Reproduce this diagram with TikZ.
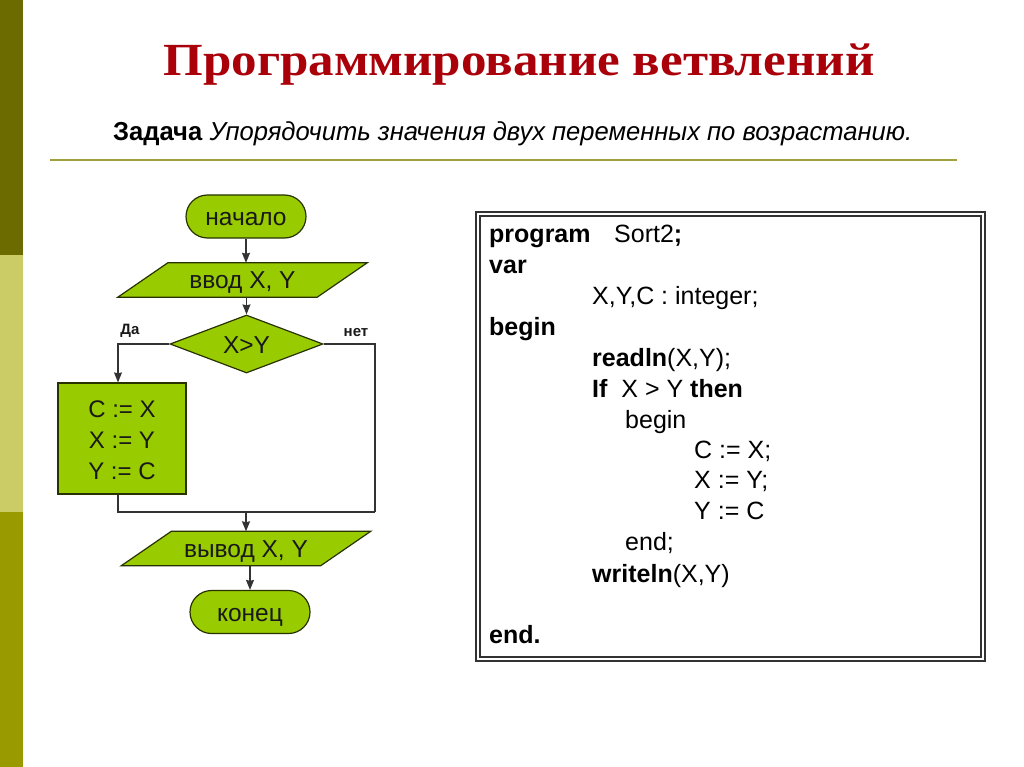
\documentclass[tikz,border=0pt]{standalone}
\usepackage{fontspec}
\setmainfont{Liberation Sans}
\newfontfamily\titlefont{Liberation Serif}
\usetikzlibrary{arrows.meta,shapes.geometric,shapes.misc,backgrounds,calc}
\definecolor{barDark}{RGB}{107,107,0}
\definecolor{barLight}{RGB}{204,204,102}
\definecolor{barMid}{RGB}{153,153,0}
\definecolor{ruleCol}{RGB}{160,160,60}
\definecolor{titleCol}{RGB}{170,0,10}
\definecolor{fcGreen}{RGB}{153,204,0}
\definecolor{fcLine}{RGB}{40,50,0}
\definecolor{codeLine}{RGB}{50,50,50}
\newcommand{\fs}[1]{\fontsize{#1}{#1}\selectfont}
\begin{document}
\begin{tikzpicture}[x=1pt,y=-1pt,
  fcshape/.style={fill=fcGreen, draw=fcLine, line width=1.2pt, text=black!90, font=\fs{24.5}, inner sep=0pt, text height=21pt, text depth=3pt},
  term/.style={fcshape, rounded rectangle, minimum width=120pt, minimum height=43pt},
  decision/.style={fcshape, diamond, aspect=2.64, minimum width=153pt, minimum height=58pt},
  procbox/.style={fill=fcGreen, draw=fcLine, line width=1.2pt, text=black!90, inner sep=0pt, rectangle, minimum width=128pt, minimum height=111pt, align=center, font=\fs{24}},
  iobox/.style={inner sep=0pt, minimum width=199pt, minimum height=34pt, text=black!90, font=\fs{24.5}, text height=20pt, text depth=3pt},
  iofill/.style={fill=fcGreen, draw=fcLine, line width=1.2pt},
  conn/.style={draw=black!80, line width=1.3pt},
  arr/.style={conn, -{Stealth[length=10pt,width=8pt,inset=1pt]}},
  lbl/.style={font=\fs{15}\bfseries, text=black!90, inner sep=0pt},
  code/.style={anchor=base west, inner sep=0pt, font=\fs{25}, text=black}
]
\useasboundingbox (0,0) rectangle (1024,767);
\begin{scope}[on background layer]
\fill[white] (0,0) rectangle (1024,767);
\end{scope}
% left bar
\fill[barDark] (0,0) rectangle (23,255);
\fill[barLight] (0,255) rectangle (23,512);
\fill[barMid] (0,512) rectangle (23,767);

% title
\node[anchor=base, inner sep=0pt, text=titleCol, font=\titlefont\fs{46}\bfseries] (title) at (519,76)
  {\resizebox{711pt}{\height}{Программирование ветвлений}};
\node[anchor=base west, inner sep=0pt, font=\fs{26}, text=black] (task) at (113,141)
  {\resizebox{799pt}{\height}{\textbf{Задача} \textit{Упорядочить значения двух переменных по возрастанию.}}};
\draw[ruleCol, line width=2pt] (50,160) -- (957,160);

% flowchart
\node[term] (start) at (246,216.5) {начало};
\node[iobox] (in) at (242.5,280) {ввод X, Y};
\node[decision] (dec) at (246.5,344) {X>Y};
\node[procbox] (box) at (122,438.5) {\rule{0pt}{21pt}C := X\\[7pt]X := Y\\[7pt]Y := C};
\node[iobox] (out) at (246,548.5) {вывод X, Y};
\node[term] (end) at (250,612) {конец};
\begin{scope}[on background layer]
  \foreach \n in {in,out}
    \path[iofill] ([xshift=25pt]\n.north west) -- ([xshift=25pt]\n.north east)
      -- ([xshift=-25pt]\n.south east) -- ([xshift=-25pt]\n.south west) -- cycle;
\end{scope}
\node[lbl] (yes) at (130,331) {Да};
\node[lbl] (no) at (356,333) {нет};
\coordinate (r) at (375,512);
\coordinate (m) at (246,512);

\draw[arr] (start.south) -- (start.south |- in.north);
\draw[arr] (dec.north |- in.south) -- (dec.north);
\draw[arr] (dec.west) -| ([xshift=-4pt]box.north);
\draw[conn] ([xshift=-4pt]box.south) |- (r);
\draw[conn] (dec.east) -| (r);
\draw[arr] (m) -- (out.north);
\draw[arr] (end.north |- out.south) -- (end.north);

% code box
\draw[codeLine, line width=1.4pt] (476,212) rectangle (985,661);
\draw[codeLine, line width=1.4pt] (480,216) rectangle (981,657);
\node[code] (l1) at (489,243) {\textbf{program}};
\node[code] (l1b) at (614,243) {Sort2\textbf{;}};
\node[code] (l2) at (489,273) {\textbf{var}};
\node[code] (l3) at (592,304) {X,Y,C : integer;};
\node[code] (l4) at (489,335) {\textbf{begin}};
\node[code] (l5) at (592,366) {\textbf{readln}(X,Y);};
\node[code] (l6) at (592,397) {\textbf{If}\ \ X > Y \textbf{then}};
\node[code] (l7) at (625,428) {begin};
\node[code] (l8) at (694,458) {C := X;};
\node[code] (l9) at (694,488) {X := Y;};
\node[code] (l10) at (694,519) {Y := C};
\node[code] (l11) at (625,550) {end;};
\node[code] (l12) at (592,582) {\textbf{writeln}(X,Y)};
\node[code] (l13) at (489,643) {\textbf{end.}};
\end{tikzpicture}
\end{document}
